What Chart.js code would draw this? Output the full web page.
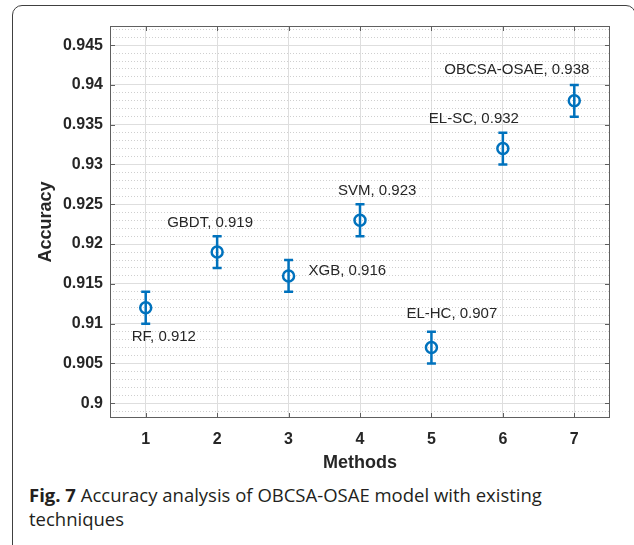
<!DOCTYPE html>
<html lang="en">
<head>
<meta charset="UTF-8">
<title>Accuracy analysis</title>
<script src="https://cdn.jsdelivr.net/npm/chart.js"></script>
<style>
    body { margin: 0; background: #fff; }
    #wrap { position: relative; width: 634px; height: 545px; overflow: hidden; }
    .frame {
        position: absolute; left: 12px; top: 5px; width: 624px; height: 600px;
        box-sizing: border-box; border: 1.5px solid #404040; border-radius: 10px;
    }
    #grafico { position: absolute; left: 0; top: 0; }
    .legenda {
        position: absolute; left: 29px; top: 483px;
        font-family: "Open Sans", "Noto Sans", sans-serif; font-size: 18.5px;
        line-height: 24px; color: #231f20; white-space: nowrap;
    }
    .legenda b { font-weight: 700; }
</style>
</head>
<body>
<div id="wrap">
    <div class="frame"></div>
    <canvas id="grafico" width="634" height="480"></canvas>
    <div class="legenda"><b>Fig. 7</b> Accuracy analysis of OBCSA-OSAE model with existing<br>techniques</div>
</div>

<script>
    // dados
    const metodos = ['RF', 'GBDT', 'XGB', 'SVM', 'EL-HC', 'EL-SC', 'OBCSA-OSAE'];
    const posicoes = [1, 2, 3, 4, 5, 6, 7];
    const acuracia = [0.912, 0.919, 0.916, 0.923, 0.907, 0.932, 0.938];
    const erro = [0.002, 0.002, 0.002, 0.002, 0.002, 0.002, 0.002];
    const ticksY = [0.9, 0.905, 0.91, 0.915, 0.92, 0.925, 0.93, 0.935, 0.94, 0.945];

    // deslocamento do texto de cada ponto (px)
    const deslocRotulo = [[-14, 29], [-50, -29], [20, -5], [-22, -29], [-25, -34], [-74, -30], [-130, -31]];

    const azul = '#0072BD';
    const texto = '#262626';
    const fonte = 'Liberation Sans, Arial, sans-serif';

    Chart.defaults.color = texto;
    Chart.defaults.font.family = fonte;

    function ehMaior(v) {
        return Math.abs(v / 0.005 - Math.round(v / 0.005)) < 1e-6;
    }

    // barras de erro
    const barrasErro = {
        id: 'barrasErro',
        beforeDatasetsDraw(chart) {
            const ctx = chart.ctx;
            const x = chart.scales.x, y = chart.scales.y;
            ctx.save();
            ctx.strokeStyle = azul;
            ctx.lineWidth = 2.5;
            for (let i = 0; i < acuracia.length; i++) {
                const px = x.getPixelForValue(posicoes[i]);
                const yTop = y.getPixelForValue(acuracia[i] + erro[i]);
                const yBot = y.getPixelForValue(acuracia[i] - erro[i]);
                ctx.beginPath();
                ctx.moveTo(px, yTop); ctx.lineTo(px, yBot);
                ctx.moveTo(px - 4.5, yTop); ctx.lineTo(px + 4.5, yTop);
                ctx.moveTo(px - 4.5, yBot); ctx.lineTo(px + 4.5, yBot);
                ctx.stroke();
            }
            ctx.restore();
        }
    };

    // caixa + ticks para dentro (estilo matlab) e rótulos
    const caixa = {
        id: 'caixa',
        afterDraw(chart) {
            const ctx = chart.ctx;
            const a = chart.chartArea;
            const x = chart.scales.x, y = chart.scales.y;
            ctx.save();
            ctx.strokeStyle = '#5f5f5f';
            ctx.lineWidth = 1;
            ctx.strokeRect(a.left + 0.5, a.top + 0.5, a.right - a.left - 1, a.bottom - a.top - 1);
            ctx.beginPath();
            x.ticks.forEach(t => {
                const px = Math.round(x.getPixelForValue(t.value)) + 0.5;
                ctx.moveTo(px, a.bottom); ctx.lineTo(px, a.bottom - 5);
                ctx.moveTo(px, a.top); ctx.lineTo(px, a.top + 5);
            });
            y.ticks.forEach(t => {
                const py = Math.round(y.getPixelForValue(t.value)) + 0.5;
                ctx.moveTo(a.left, py); ctx.lineTo(a.left + 5, py);
                ctx.moveTo(a.right, py); ctx.lineTo(a.right - 5, py);
            });
            ctx.stroke();

            ctx.fillStyle = texto;
            ctx.font = '15px ' + fonte;
            ctx.textAlign = 'left';
            ctx.textBaseline = 'middle';
            for (let i = 0; i < metodos.length; i++) {
                const px = x.getPixelForValue(posicoes[i]);
                const py = y.getPixelForValue(acuracia[i]);
                ctx.fillText(metodos[i] + ', ' + acuracia[i], px + deslocRotulo[i][0], py + deslocRotulo[i][1]);
            }
            ctx.restore();
        }
    };

    const pontos = posicoes.map((p, i) => ({ x: p, y: acuracia[i] }));

    const config = {
        type: 'scatter',
        data: {
            datasets: [{
                label: 'Accuracy',
                data: pontos,
                borderColor: azul,
                backgroundColor: 'rgba(0,0,0,0)',
                pointRadius: 5.5,
                pointBorderWidth: 2.5,
                pointHoverRadius: 5.5
            }]
        },
        options: {
            responsive: false,
            animation: false,
            devicePixelRatio: 1,
            layout: { padding: { left: 0, top: 26, right: 24, bottom: 0 } },
            plugins: { legend: { display: false }, tooltip: { enabled: false } },
            scales: {
                x: {
                    type: 'linear',
                    min: 0.5, max: 7.5,
                    afterFit: s => { s.height = 62; },
                    afterBuildTicks: s => { s.ticks = posicoes.map(v => ({ value: v })); },
                    grid: { color: '#dedede', drawTicks: false },
                    border: { display: false },
                    ticks: {
                        padding: 12,
                        font: { size: 16, weight: 'bold' }, color: texto
                    },
                    title: {
                        display: true, text: 'Methods', color: texto,
                        font: { size: 18, weight: 'bold' },
                        padding: { top: 0, bottom: 6 }
                    }
                },
                yMinor: {
                    type: 'linear',
                    position: 'left',
                    min: 0.89815, max: 0.9474,
                    afterFit: s => { s.width = 0; },
                    grid: {
                        drawTicks: false,
                        color: ctx => ehMaior(ctx.tick.value) ? 'rgba(0,0,0,0)' : '#cfcfcf'
                    },
                    border: { display: false, dash: [1, 2] },
                    ticks: { display: false, stepSize: 0.001, includeBounds: false }
                },
                y: {
                    type: 'linear',
                    position: 'left',
                    min: 0.89815, max: 0.9474,
                    afterFit: s => { s.width = 110; },
                    afterBuildTicks: s => { s.ticks = ticksY.map(v => ({ value: v })); },
                    grid: { color: '#dedede', drawTicks: false },
                    border: { display: false },
                    ticks: {
                        padding: 7,
                        font: { size: 16, weight: 'bold' }, color: texto,
                        callback: v => String(+v.toFixed(3))
                    },
                    title: {
                        display: true, text: 'Accuracy', color: texto,
                        font: { size: 18, weight: 'bold' },
                        padding: { top: 35, bottom: 0 }
                    }
                }
            }
        },
        plugins: [barrasErro, caixa]
    };

    const myChart = new Chart(document.querySelector('#grafico'), config);
</script>
</body>
</html>
